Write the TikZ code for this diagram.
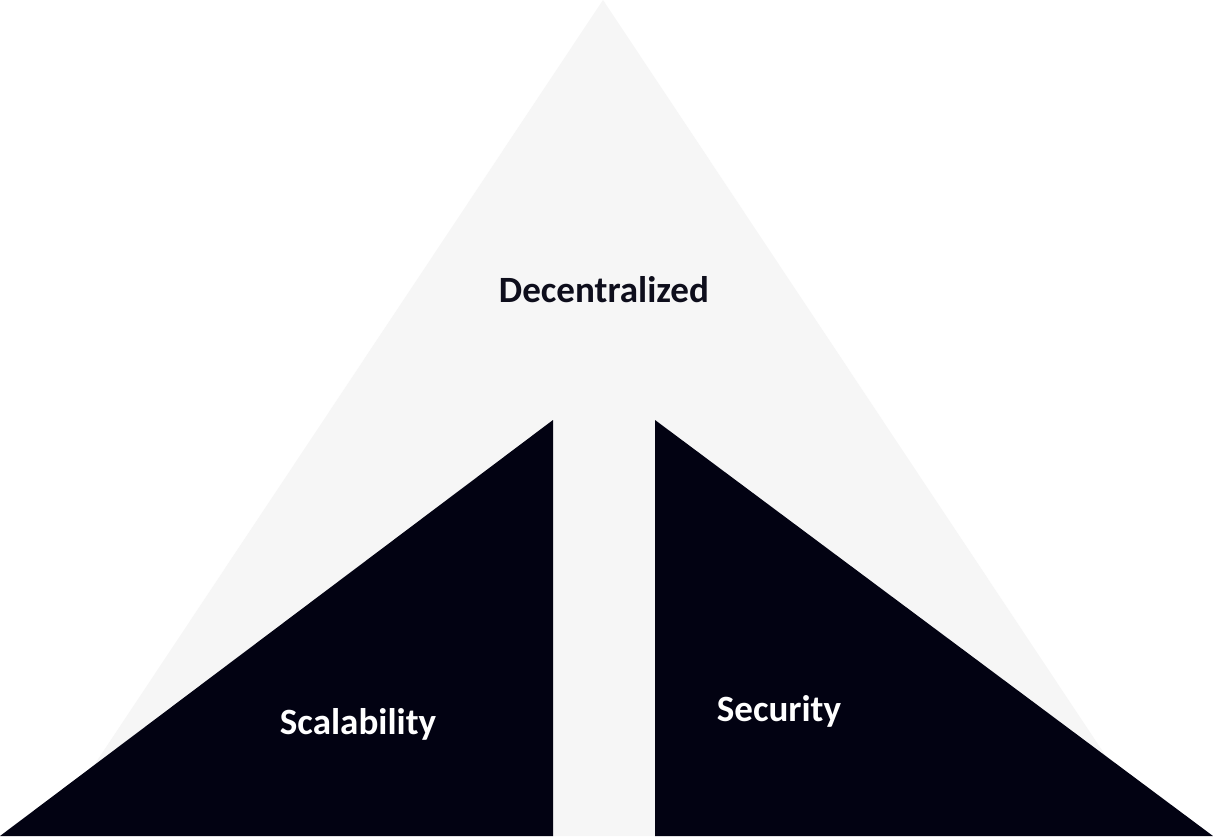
\documentclass[tikz,border=0pt]{standalone}
\usepackage{fontspec}
\setmainfont{Carlito}
\definecolor{pale}{HTML}{F6F6F6}
\definecolor{ink}{HTML}{020212}
\definecolor{txtdark}{HTML}{0E0E1C}
\begin{document}
\begin{tikzpicture}[x=0.75pt,y=-0.75pt,
  lbl/.style={font=\bfseries\fontsize{27.8}{32}\selectfont, inner sep=0pt, anchor=center}]
\useasboundingbox (0,0) rectangle (1213,836);
\fill[white] (0,0) rectangle (1213,836);
\fill[pale] (603,0) -- (1159,836) -- (47,836) -- cycle;
\fill[ink] (0,836) -- (553,420) -- (553,836) -- cycle;
\fill[ink] (655,420) -- (655,836) -- (1213,836) -- cycle;
\node[lbl, text=txtdark] (dec) at (604,290) {Decentralized};
\node[lbl, text=white] (sca) at (358,724) {Scalability};
\node[lbl, text=white] (sec) at (779,711) {Security};
\end{tikzpicture}
\end{document}
